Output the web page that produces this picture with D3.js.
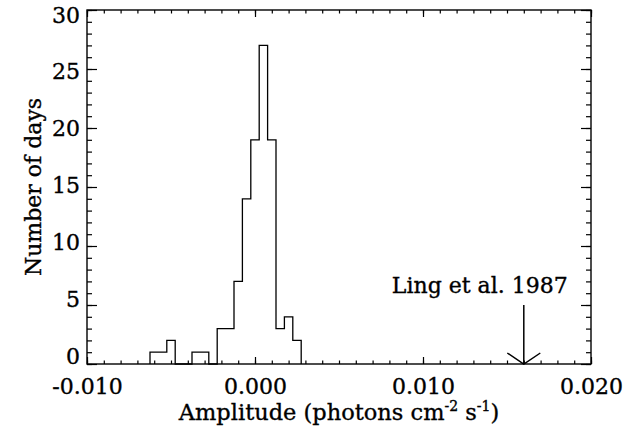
<!DOCTYPE html>
<html>
<head>
<meta charset="utf-8">
<script src="https://cdn.jsdelivr.net/npm/d3@7"></script>
<style>
  body { margin: 0; background: #fff; }
  text { font-family: "DejaVu Serif", serif; fill: #000; stroke: #000; stroke-width: 0.35px; }
</style>
</head>
<body>
<div id="chart"></div>
<script>
// histogram bins (center of bin, width 0.0005)
var binCenters = [-0.0060, -0.0055, -0.0050, -0.0045, -0.0040, -0.0035, -0.0030, -0.0025,
                  -0.0020, -0.0015, -0.0010, -0.0005, 0.0000, 0.0005, 0.0010, 0.0015,
                  0.0020, 0.0025];
var binCounts = [1, 1, 2, 0, 0, 1, 1, 0,
                 3, 3, 7, 14, 19, 27, 19, 3,
                 4, 2];
var binWidth = 0.0005;

var xTicks = [-0.010, 0.000, 0.010, 0.020];
var yTicks = [0, 5, 10, 15, 20, 25, 30];

// Ling et al. 1987 marker
var markerX = 0.016;
var markerTop = 5;
var markerLabel = "Ling et al. 1987";

var W = 639, H = 430;
var margin = {top: 10, right: 48, bottom: 66, left: 87};
var width = W - margin.left - margin.right,
    height = H - margin.top - margin.bottom;

var svg = d3.select("#chart").append("svg")
    .attr("width", W)
    .attr("height", H);

var g = svg.append("g")
    .attr("transform", "translate(" + margin.left + "," + margin.top + ")");

var x = d3.scaleLinear().domain([-0.010, 0.020]).range([0, width]);
var y = d3.scaleLinear().domain([0, 30]).range([height, 0]);
// y tick labels sit slightly inside the axis ends (like the IDL original)
var yLab = d3.scaleLinear().domain([0, 30]).range([height, 13]);

var xMinor = d3.range(-0.010, 0.0201, 0.001);
var yMinor = d3.range(0, 31, 1);

// tick lengths (IDL style, inward)
var xMajLen = 7, xMinLen = 3.5, yMajLen = 10, yMinLen = 5;

function styleAxis(sel) {
  sel.select(".domain").remove();
  sel.selectAll("line").attr("stroke", "#000").attr("stroke-width", 1.2);
}

// bottom axis
g.append("g").attr("transform", "translate(0," + height + ")")
  .call(d3.axisBottom(x).tickValues(xMinor).tickSizeInner(-xMinLen).tickSizeOuter(0).tickFormat(""))
  .call(styleAxis);
g.append("g").attr("transform", "translate(0," + height + ")")
  .call(d3.axisBottom(x).tickValues(xTicks).tickSizeInner(-xMajLen).tickSizeOuter(0)
    .tickFormat(function(d) { return d.toFixed(3); }))
  .call(styleAxis)
  .selectAll("text").attr("font-size", 22).attr("dy", 0).attr("y", 30);

// top axis
g.append("g")
  .call(d3.axisTop(x).tickValues(xMinor).tickSizeInner(-xMinLen).tickSizeOuter(0).tickFormat(""))
  .call(styleAxis);
g.append("g")
  .call(d3.axisTop(x).tickValues(xTicks).tickSizeInner(-xMajLen).tickSizeOuter(0).tickFormat(""))
  .call(styleAxis);

// left axis
g.append("g")
  .call(d3.axisLeft(y).tickValues(yMinor).tickSizeInner(-yMinLen).tickSizeOuter(0).tickFormat(""))
  .call(styleAxis);
g.append("g")
  .call(d3.axisLeft(y).tickValues(yTicks).tickSizeInner(-yMajLen).tickSizeOuter(0))
  .call(styleAxis)
  .selectAll("text")
    .attr("font-size", 22)
    .attr("x", -7)
    .attr("dy", 0)
    .attr("y", function(d) { return yLab(d) - y(d) - 1; });

// right axis
g.append("g").attr("transform", "translate(" + width + ",0)")
  .call(d3.axisRight(y).tickValues(yMinor).tickSizeInner(-yMinLen).tickSizeOuter(0).tickFormat(""))
  .call(styleAxis);
g.append("g").attr("transform", "translate(" + width + ",0)")
  .call(d3.axisRight(y).tickValues(yTicks).tickSizeInner(-yMajLen).tickSizeOuter(0).tickFormat(""))
  .call(styleAxis);

g.selectAll(".tick text").attr("font-family", "DejaVu Serif").attr("fill", "#000");

// frame
g.append("rect")
  .attr("x", 0).attr("y", 0)
  .attr("width", width).attr("height", height)
  .attr("fill", "none").attr("stroke", "#000").attr("stroke-width", 1.4);

// histogram outline
var pts = [[binCenters[0] - binWidth / 2, 0]];
binCenters.forEach(function(c, i) {
  pts.push([c - binWidth / 2, binCounts[i]]);
  pts.push([c + binWidth / 2, binCounts[i]]);
});
pts.push([binCenters[binCenters.length - 1] + binWidth / 2, 0]);

var line = d3.line()
  .x(function(d) { return x(d[0]); })
  .y(function(d) { return y(d[1]); });

g.append("path")
  .datum(pts)
  .attr("d", line)
  .attr("fill", "none")
  .attr("stroke", "#000")
  .attr("stroke-width", 1.3);

// arrow for Ling et al. 1987
var ax = x(markerX);
g.append("line")
  .attr("x1", ax).attr("x2", ax)
  .attr("y1", y(markerTop)).attr("y2", y(0))
  .attr("stroke", "#000").attr("stroke-width", 1.5);
g.append("path")
  .attr("d", "M" + (ax - 16.5) + "," + (y(0) - 11) + "L" + ax + "," + y(0) + "L" + (ax + 16.5) + "," + (y(0) - 11))
  .attr("fill", "none").attr("stroke", "#000").attr("stroke-width", 1.5);
g.append("text")
  .attr("x", ax - 44).attr("y", y(markerTop) - 12)
  .attr("text-anchor", "middle")
  .attr("font-size", 22)
  .text(markerLabel);

// axis titles
var xt = svg.append("text")
  .attr("x", margin.left + width / 2).attr("y", 420)
  .attr("text-anchor", "middle")
  .attr("font-size", 22.5);
xt.append("tspan").text("Amplitude (photons cm");
xt.append("tspan").attr("font-size", 14).attr("dy", -9).text("-2");
xt.append("tspan").attr("dy", 9).text(" s");
xt.append("tspan").attr("font-size", 14).attr("dy", -9).text("-1");
xt.append("tspan").attr("dy", 9).text(")");

svg.append("text")
  .attr("transform", "translate(41," + (margin.top + height / 2) + ") rotate(-90)")
  .attr("text-anchor", "middle")
  .attr("font-size", 22)
  .text("Number of days");
</script>
</body>
</html>
